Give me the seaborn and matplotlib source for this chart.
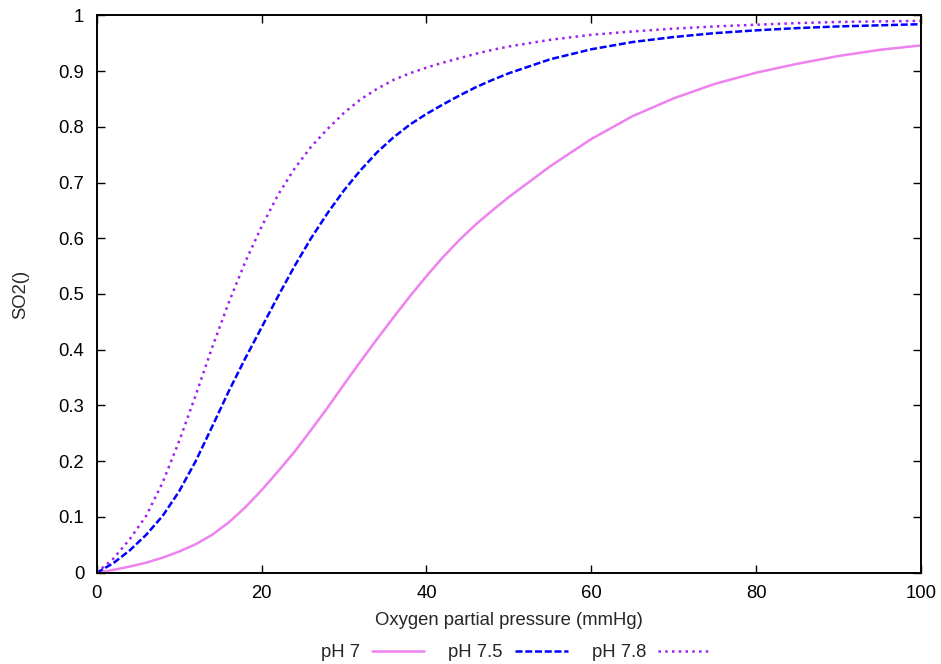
import matplotlib
matplotlib.use("Agg")
import matplotlib.pyplot as plt
from matplotlib.ticker import FuncFormatter, MultipleLocator
import seaborn as sns
import pandas as pd

# Oxygen partial pressure (mmHg) sample points
po2 = [0, 2, 4, 6, 8, 10, 12, 14, 16, 18, 20, 22, 24, 26, 28, 30, 32, 34, 36, 38,
       40, 42, 44, 46, 48, 50, 55, 60, 65, 70, 75, 80, 85, 90, 95, 100]

# Haemoglobin oxygen saturation for three blood pH values
so2_ph70 = [0.0, 0.005, 0.011, 0.018, 0.027, 0.038, 0.051, 0.068, 0.090, 0.117,
            0.148, 0.182, 0.217, 0.256, 0.296, 0.338, 0.379, 0.419, 0.458, 0.496,
            0.532, 0.566, 0.597, 0.625, 0.650, 0.674, 0.729, 0.778, 0.819, 0.851,
            0.877, 0.897, 0.913, 0.927, 0.938, 0.946]
so2_ph75 = [0.0, 0.017, 0.040, 0.068, 0.102, 0.146, 0.200, 0.262, 0.325, 0.384,
            0.440, 0.496, 0.550, 0.600, 0.645, 0.686, 0.722, 0.754, 0.781, 0.804,
            0.823, 0.840, 0.856, 0.871, 0.884, 0.896, 0.921, 0.939, 0.952, 0.961,
            0.968, 0.973, 0.977, 0.980, 0.982, 0.984]
so2_ph78 = [0.0, 0.025, 0.060, 0.102, 0.162, 0.236, 0.318, 0.404, 0.484, 0.557,
            0.621, 0.678, 0.725, 0.764, 0.796, 0.825, 0.849, 0.868, 0.884, 0.896,
            0.906, 0.915, 0.923, 0.931, 0.938, 0.944, 0.956, 0.965, 0.971, 0.976,
            0.980, 0.983, 0.986, 0.988, 0.989, 0.990]

labels = ["pH 7", "pH 7.5", "pH 7.8"]
series = [so2_ph70, so2_ph75, so2_ph78]

df = pd.concat(
    [pd.DataFrame({"pO2": po2, "SO2": s, "curve": lab}) for lab, s in zip(labels, series)],
    ignore_index=True,
)

FS = 13.3

sns.set_style("ticks")
plt.rcParams["font.family"] = ["Liberation Sans", "DejaVu Sans"]
plt.rcParams["font.size"] = FS

fig = plt.figure(figsize=(9.41, 6.64), dpi=100)
ax = fig.add_axes([0.1028, 0.1375, 0.876, 0.8395])

palette = {"pH 7": "#EE82EE", "pH 7.5": "#0000FF", "pH 7.8": "#A020F0"}
dashes = {"pH 7": "", "pH 7.5": (2.8, 1.1), "pH 7.8": (1.0, 1.7)}
lw = 1.8

sns.lineplot(data=df, x="pO2", y="SO2", hue="curve", style="curve",
             palette=palette, dashes=dashes, linewidth=lw, ax=ax,
             legend=False)

ax.set_xlim(0, 100)
ax.set_ylim(0, 1)
ax.xaxis.set_major_locator(MultipleLocator(20))
ax.yaxis.set_major_locator(MultipleLocator(0.1))
ax.yaxis.set_major_formatter(FuncFormatter(lambda v, p: f"{v:g}"))
ax.xaxis.set_major_formatter(FuncFormatter(lambda v, p: f"{v:g}"))

ax.tick_params(axis="both", which="major", direction="in", length=6, width=1.0,
               top=True, right=True, labelsize=FS, colors="black")
ax.tick_params(axis="y", pad=9)
ax.tick_params(axis="x", pad=9)

for sp in ax.spines.values():
    sp.set_visible(True)
    sp.set_color("black")
    sp.set_linewidth(1.4)

ax.set_xlabel("Oxygen partial pressure (mmHg)", fontsize=FS)
ax.set_ylabel("SO2()", fontsize=FS)
ax.xaxis.set_label_coords(0.5, -0.070)
ax.yaxis.set_label_coords(-0.082, 0.5)

# Legend below the plot: label first, then the line sample
handles = [
    plt.Line2D([], [], color=palette[l], linewidth=lw,
               linestyle=(0, dashes[l]) if dashes[l] else "-")
    for l in labels
]
fig.legend(handles, labels, loc="center", bbox_to_anchor=(0.548, 0.0166),
           ncol=3, frameon=False, markerfirst=False, handlelength=2.85,
           handletextpad=0.65, columnspacing=1.3, fontsize=FS,
           borderpad=0, borderaxespad=0)

fig.savefig("out.png", dpi=100, facecolor="white")
